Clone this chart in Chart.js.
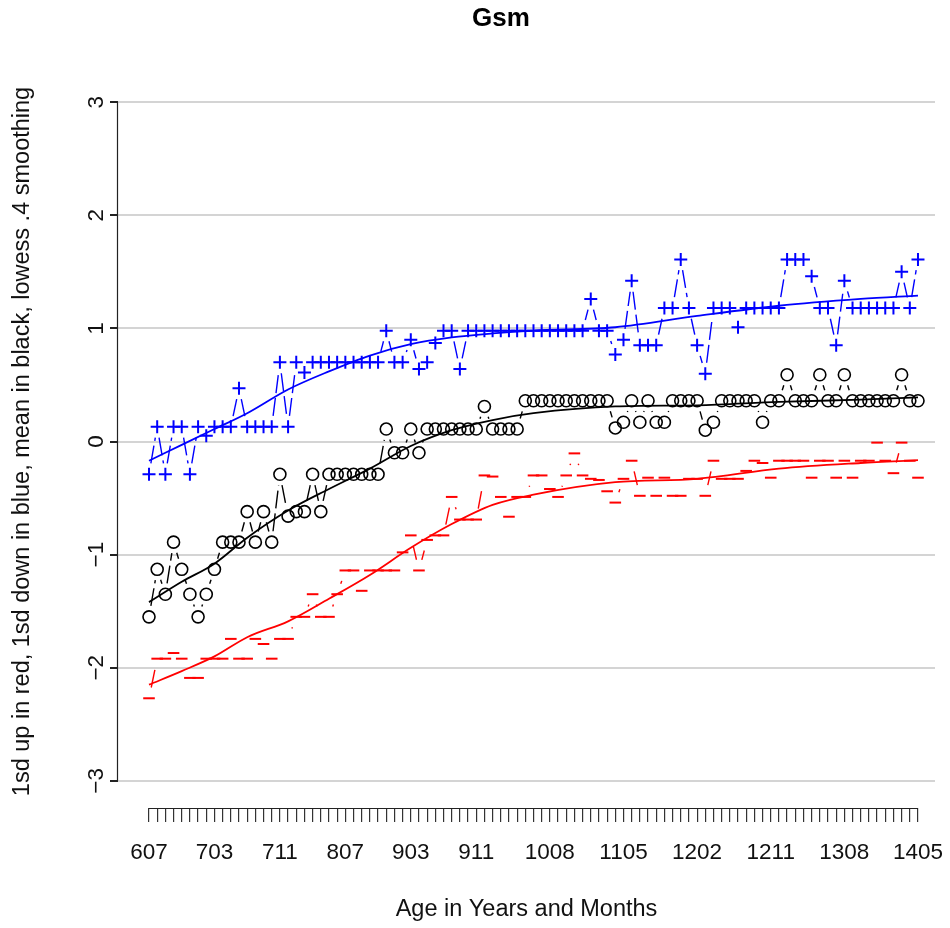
<!DOCTYPE html>
<html>
<head>
<meta charset="utf-8">
<script src="https://cdn.jsdelivr.net/npm/chart.js@4.4.0/dist/chart.umd.min.js"></script>
<style>
    html, body { margin: 0; padding: 0; background: #fff; }
</style>
</head>
<body>
<canvas id="gsmChart" width="950" height="928"></canvas>
<script>
// ages as years+months, one per month
const ageLabels = [
    '607', '608', '609', '610', '611',
    '700', '701', '702', '703', '704', '705', '706', '707', '708', '709', '710', '711',
    '800', '801', '802', '803', '804', '805', '806', '807', '808', '809', '810', '811',
    '900', '901', '902', '903', '904', '905', '906', '907', '908', '909', '910', '911',
    '1000', '1001', '1002', '1003', '1004', '1005', '1006', '1007', '1008', '1009', '1010', '1011',
    '1100', '1101', '1102', '1103', '1104', '1105', '1106', '1107', '1108', '1109', '1110', '1111',
    '1200', '1201', '1202', '1203', '1204', '1205', '1206', '1207', '1208', '1209', '1210', '1211',
    '1300', '1301', '1302', '1303', '1304', '1305', '1306', '1307', '1308', '1309', '1310', '1311',
    '1400', '1401', '1402', '1403', '1404', '1405'
];
const shownAges = ['607', '703', '711', '807', '903', '911', '1008', '1105', '1202', '1211', '1308', '1405'];
const yTicks = [-3, -2, -1, 0, 1, 2, 3];

// mean (black circles)
const meanScores = [
    -1.55, -1.13, -1.35, -0.89, -1.13, -1.35, -1.55, -1.35, -1.13, -0.89,
    -0.89, -0.89, -0.62, -0.89, -0.62, -0.89, -0.29, -0.66, -0.62, -0.62,
    -0.29, -0.62, -0.29, -0.29, -0.29, -0.29, -0.29, -0.29, -0.29, 0.11,
    -0.10, -0.10, 0.11, -0.10, 0.11, 0.11, 0.11, 0.11, 0.11, 0.11,
    0.11, 0.31, 0.11, 0.11, 0.11, 0.11, 0.36, 0.36, 0.36, 0.36,
    0.36, 0.36, 0.36, 0.36, 0.36, 0.36, 0.36, 0.12, 0.17, 0.36,
    0.17, 0.36, 0.17, 0.17, 0.36, 0.36, 0.36, 0.36, 0.10, 0.17,
    0.36, 0.36, 0.36, 0.36, 0.36, 0.17, 0.36, 0.36, 0.59, 0.36,
    0.36, 0.36, 0.59, 0.36, 0.36, 0.59, 0.36, 0.36, 0.36, 0.36,
    0.36, 0.36, 0.59, 0.36, 0.36
];

// 1 sd down (blue crosses)
const sdDownScores = [
    -0.29, 0.13, -0.29, 0.13, 0.13, -0.29, 0.13, 0.05, 0.13, 0.13,
    0.13, 0.47, 0.13, 0.13, 0.13, 0.13, 0.70, 0.13, 0.70, 0.61,
    0.70, 0.70, 0.70, 0.70, 0.70, 0.70, 0.70, 0.70, 0.70, 0.98,
    0.70, 0.70, 0.90, 0.64, 0.70, 0.87, 0.98, 0.98, 0.64, 0.98,
    0.98, 0.98, 0.98, 0.98, 0.98, 0.98, 0.98, 0.98, 0.98, 0.98,
    0.98, 0.98, 0.98, 0.98, 1.26, 0.98, 0.98, 0.77, 0.90, 1.42,
    0.85, 0.85, 0.85, 1.18, 1.18, 1.61, 1.18, 0.85, 0.60, 1.18,
    1.18, 1.18, 1.01, 1.18, 1.18, 1.18, 1.18, 1.18, 1.61, 1.61,
    1.61, 1.46, 1.18, 1.18, 0.85, 1.42, 1.18, 1.18, 1.18, 1.18,
    1.18, 1.18, 1.50, 1.18, 1.61
];

// 1 sd up (red dashes)
const sdUpScores = [
    -2.27, -1.92, -1.92, -1.87, -1.92, -2.09, -2.09, -1.92, -1.92, -1.92,
    -1.745, -1.92, -1.92, -1.745, -1.79, -1.92, -1.745, -1.745, -1.55, -1.55,
    -1.35, -1.55, -1.55, -1.35, -1.14, -1.14, -1.32, -1.14, -1.14, -1.14,
    -1.14, -0.98, -0.83, -1.14, -0.87, -0.83, -0.83, -0.49, -0.69, -0.69,
    -0.69, -0.30, -0.31, -0.49, -0.665, -0.49, -0.49, -0.30, -0.30, -0.42,
    -0.49, -0.30, -0.105, -0.30, -0.33, -0.34, -0.44, -0.54, -0.33, -0.17,
    -0.48, -0.32, -0.48, -0.32, -0.48, -0.48, -0.33, -0.33, -0.48, -0.17,
    -0.33, -0.33, -0.33, -0.26, -0.17, -0.19, -0.32, -0.17, -0.17, -0.17,
    -0.17, -0.32, -0.17, -0.17, -0.32, -0.17, -0.32, -0.17, -0.17, -0.01,
    -0.17, -0.28, -0.01, -0.17, -0.32
];

const smoothIdx = [0, 4, 8, 12, 17, 22, 27, 32, 37, 42, 47, 57, 67, 77, 87, 94];
const meanSmooth = [-1.42, -1.24, -1.08, -0.85, -0.61, -0.42, -0.24, -0.04, 0.10, 0.19, 0.25, 0.31, 0.32, 0.35, 0.37, 0.39];
const sdDownSmooth = [-0.17, -0.03, 0.11, 0.25, 0.46, 0.62, 0.76, 0.86, 0.92, 0.955, 0.98, 1.01, 1.11, 1.20, 1.26, 1.29];
const sdUpSmooth = [-2.15, -2.03, -1.90, -1.73, -1.59, -1.39, -1.18, -0.94, -0.73, -0.56, -0.47, -0.36, -0.33, -0.24, -0.19, -0.165];

const FONT = '"Liberation Sans", Arial, Helvetica, sans-serif';
const GAP = 11;

const toPoints = vals => vals.map((v, i) => ({ x: i, y: v }));
const toSmooth = vals => vals.map((v, i) => ({ x: smoothIdx[i], y: v }));

// lines between points, stopped short of each marker (like type="b")
const gapLines = {
    id: 'gapLines',
    beforeDatasetsDraw(chart) {
        const ctx = chart.ctx;
        chart.data.datasets.forEach((ds, di) => {
            if (!ds.gapLine) return;
            const pts = chart.getDatasetMeta(di).data;
            ctx.save();
            ctx.strokeStyle = ds.borderColor;
            ctx.lineWidth = 1.4;
            ctx.setLineDash([18, 5]);
            for (let i = 1; i < pts.length; i++) {
                const a = pts[i - 1];
                const b = pts[i];
                const dx = b.x - a.x;
                const dy = b.y - a.y;
                const len = Math.hypot(dx, dy);
                if (len <= 2 * GAP) continue;
                const ux = dx / len;
                const uy = dy / len;
                ctx.beginPath();
                ctx.moveTo(a.x + ux * GAP, a.y + uy * GAP);
                ctx.lineTo(b.x - ux * GAP, b.y - uy * GAP);
                ctx.stroke();
            }
            ctx.restore();
        });
    }
};

// axis lines only across the tick range, plus the main title
const axisLines = {
    id: 'axisLines',
    afterDraw(chart) {
        const { ctx, chartArea, scales: { x, y } } = chart;
        ctx.save();
        ctx.strokeStyle = '#222';
        ctx.lineWidth = 1.2;
        ctx.beginPath();
        const yb = chartArea.bottom + 0.5;
        ctx.moveTo(x.getPixelForValue(0), yb);
        ctx.lineTo(x.getPixelForValue(ageLabels.length - 1), yb);
        const xl = chartArea.left - 0.5;
        ctx.moveTo(xl, y.getPixelForValue(yTicks[0]));
        ctx.lineTo(xl, y.getPixelForValue(yTicks[yTicks.length - 1]));
        ctx.stroke();

        ctx.font = 'bold 26px ' + FONT;
        ctx.fillStyle = '#000';
        ctx.textAlign = 'center';
        ctx.textBaseline = 'middle';
        ctx.fillText('Gsm', 501, 19);
        ctx.restore();
    }
};

new Chart(document.getElementById('gsmChart'), {
    type: 'line',
    data: {
        datasets: [
            {
                label: 'sd down',
                data: toPoints(sdDownScores),
                gapLine: true,
                showLine: false,
                borderColor: '#0000ff',
                backgroundColor: '#0000ff',
                pointStyle: 'cross',
                pointRadius: 6.5,
                pointBorderWidth: 2
            },
            {
                label: 'mean',
                data: toPoints(meanScores),
                gapLine: true,
                showLine: false,
                borderColor: '#000000',
                backgroundColor: 'rgba(0,0,0,0)',
                pointStyle: 'circle',
                pointRadius: 6,
                pointBorderWidth: 1.6
            },
            {
                label: 'sd up',
                data: toPoints(sdUpScores),
                gapLine: true,
                showLine: false,
                borderColor: '#ff0000',
                backgroundColor: '#ff0000',
                pointStyle: 'line',
                pointRadius: 5.8,
                pointBorderWidth: 2
            },
            {
                label: 'sd down lowess',
                data: toSmooth(sdDownSmooth),
                borderColor: '#0000ff',
                borderWidth: 1.8,
                pointRadius: 0,
                cubicInterpolationMode: 'monotone'
            },
            {
                label: 'mean lowess',
                data: toSmooth(meanSmooth),
                borderColor: '#000000',
                borderWidth: 1.8,
                pointRadius: 0,
                cubicInterpolationMode: 'monotone'
            },
            {
                label: 'sd up lowess',
                data: toSmooth(sdUpSmooth),
                borderColor: '#ff0000',
                borderWidth: 1.8,
                pointRadius: 0,
                cubicInterpolationMode: 'monotone'
            }
        ]
    },
    options: {
        responsive: false,
        animation: false,
        layout: { padding: { left: 0, right: 15, top: 75, bottom: 0 } },
        plugins: {
            legend: { display: false },
            tooltip: { enabled: false }
        },
        scales: {
            x: {
                type: 'linear',
                min: -3.79,
                max: 96.08,
                afterBuildTicks: s => { s.ticks = ageLabels.map((a, i) => ({ value: i })); },
                afterFit: s => { s.height = 120; s.paddingLeft = 0; s.paddingRight = 0; },
                border: { display: false },
                grid: {
                    drawOnChartArea: false,
                    drawTicks: true,
                    tickLength: 14,
                    tickColor: '#333',
                    lineWidth: 1.2
                },
                ticks: {
                    autoSkip: false,
                    maxRotation: 0,
                    minRotation: 0,
                    padding: 17,
                    color: '#111',
                    font: { family: FONT, size: 22.5 },
                    callback: v => shownAges.includes(ageLabels[v]) ? ageLabels[v] : ''
                },
                title: {
                    display: true,
                    text: 'Age in Years and Months',
                    color: '#111',
                    font: { family: FONT, size: 23.5 },
                    padding: { top: 0, bottom: 4 }
                }
            },
            y: {
                min: -3.24,
                max: 3.24,
                afterBuildTicks: s => { s.ticks = yTicks.map(v => ({ value: v })); },
                afterFit: s => { s.width = 118; },
                border: { display: false },
                grid: {
                    color: '#d4d4d4',
                    lineWidth: 2,
                    drawTicks: true,
                    tickLength: 8,
                    tickColor: '#222'
                },
                ticks: {
                    minRotation: 90,
                    maxRotation: 90,
                    crossAlign: 'center',
                    padding: 0,
                    color: '#111',
                    font: { family: FONT, size: 22.5 },
                    callback: v => String(v).replace('-', '\u2212')
                },
                title: {
                    display: true,
                    text: '1sd up in red, 1sd down in blue, mean in black, lowess .4 smoothing',
                    color: '#111',
                    font: { family: FONT, size: 23.5 },
                    padding: { top: 8, bottom: 0 }
                }
            }
        }
    },
    plugins: [gapLines, axisLines]
});
</script>
</body>
</html>
